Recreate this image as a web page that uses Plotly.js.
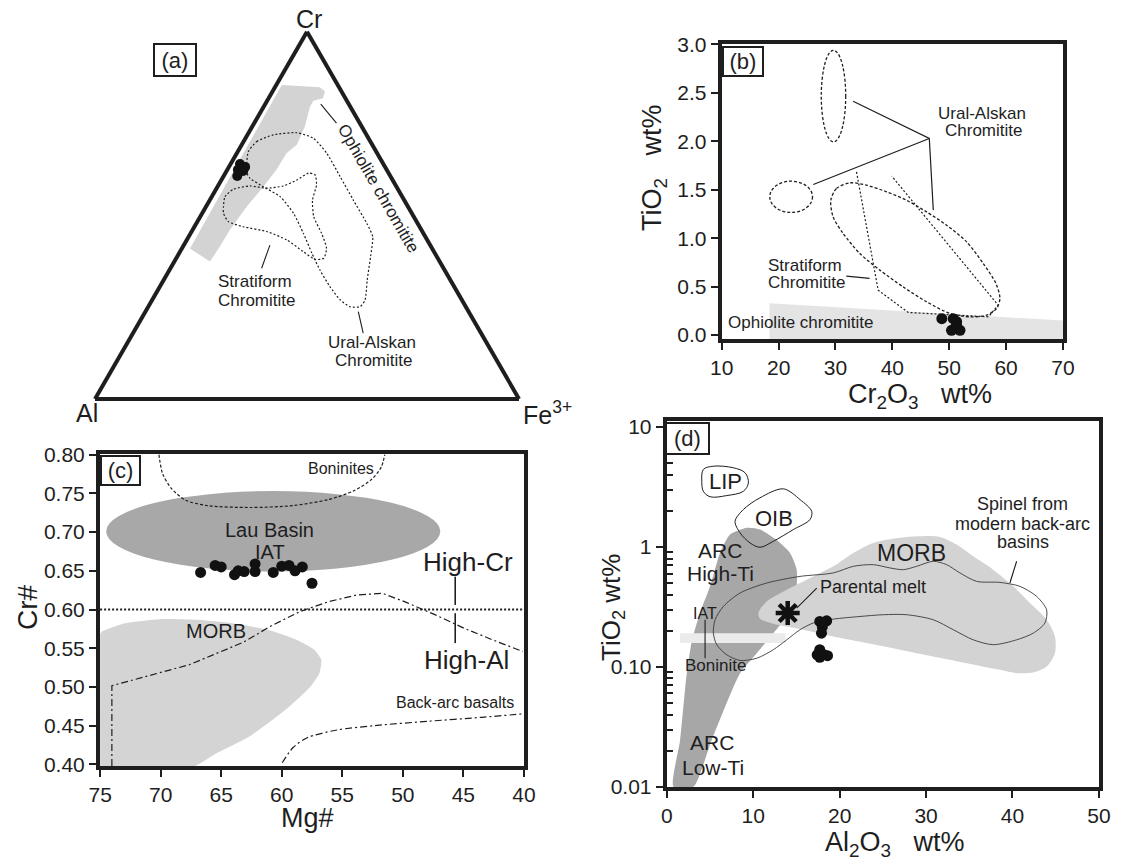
<!DOCTYPE html>
<html><head><meta charset="utf-8">
<script src="https://cdn.plot.ly/plotly-3.0.1.min.js"></script>
<style>html,body{margin:0;padding:0;background:#fff}#chart{width:1123px;height:861px}</style>
</head><body><div id="chart"></div>
<script>
// ================= DATA =================
// (a) Cr - Al - Fe3+ ternary (values in %)
const aPtsCr = [64.0, 63.2, 62.1, 62.4, 60.7, 62.9];
const aPtsAl = [33.8, 33.0, 34.0, 35.1, 36.1, 34.1];
const aPtsFe = [2.2, 3.8, 3.9, 2.5, 3.2, 3.0];

const aOphCr = [85.5, 84.9, 83.7, 81.9, 81.2, 79.6, 74.2, 69.2, 66.9, 62.4, 57.8, 52.4, 46.0, 41.5, 37.4, 41.0];
const aOphAl = [13.2, 4.5, 3.9, 5.3, 7.9, 9.5, 13.4, 17.8, 21.4, 26.0, 31.4, 38.0, 45.2, 49.8, 54.2, 57.1];
const aOphFe = [1.3, 10.6, 12.4, 12.8, 10.9, 10.9, 12.4, 13.0, 11.7, 11.6, 10.8, 9.6, 8.8, 8.7, 8.4, 1.9];

const aUraCr = [67.4, 70.1, 71.9, 72.5, 71.0, 66.9, 60.5, 54.2, 47.9, 44.2, 38.8, 32.4, 27.0, 25.1, 25.1, 27.0, 30.6, 35.1, 39.7, 45.1, 50.6, 55.1, 57.8, 60.1, 61.9, 64.6];
const aUraAl = [30.2, 26.8, 22.0, 16.2, 13.0, 11.9, 11.9, 12.0, 12.0, 12.4, 15.6, 19.6, 22.8, 24.9, 27.3, 28.7, 29.3, 29.4, 29.0, 28.3, 27.9, 28.8, 31.4, 33.4, 33.4, 31.9];
const aUraFe = [2.5, 3.1, 6.1, 11.3, 16.0, 21.2, 27.5, 33.8, 40.2, 43.4, 45.6, 48.0, 50.2, 49.9, 47.6, 44.3, 40.1, 35.5, 31.3, 26.6, 21.5, 16.1, 10.8, 6.5, 4.7, 3.5];

const aStrCr = [52.4, 55.1, 57.1, 58.0, 57.4, 58.0, 59.6, 61.5, 61.0, 58.3, 54.2, 49.6, 45.1, 41.0, 38.3, 38.0, 40.1, 43.3, 45.6, 46.9, 48.3, 50.6];
const aStrAl = [43.5, 41.8, 38.8, 34.4, 30.8, 26.6, 22.6, 18.9, 17.6, 18.6, 21.6, 23.6, 24.0, 24.9, 26.9, 29.1, 30.8, 33.1, 36.7, 41.6, 44.4, 44.4];
const aStrFe = [4.1, 3.1, 4.1, 7.6, 11.8, 15.4, 17.8, 19.6, 21.4, 23.1, 24.2, 26.8, 30.9, 34.1, 34.8, 32.9, 29.1, 23.6, 17.7, 11.5, 7.3, 5.0];

const aLeadCr = [80.3, 75.1, null, 41.9, 35.6, null, 23.8, 17.9];
const aLeadAl = [6.6, 5.5, null, 37.8, 42.9, null, 26.0, 27.8];
const aLeadFe = [13.1, 19.4, null, 20.3, 21.5, null, 50.2, 54.3];

// (b) TiO2 vs Cr2O3
const bPtsX = [48.7, 50.7, 51.3, 51.0, 51.9, 50.4, 51.3];
const bPtsY = [0.17, 0.17, 0.14, 0.07, 0.05, 0.05, 0.10];
const bOphX = [18.4, 70, 70, 18.4];
const bOphY = [0.33, 0.15, -0.04, -0.04];
const bUraTopX = [27.5, 31.8];
const bUraTopY = [1.995, 2.94];
const bUraSmallX = [18.45, 25.96];
const bUraSmallY = [1.266, 1.589];
const bUraBigX = [29.18, 30.18, 32.52, 35.46, 38.98, 42.5, 46.02, 49.54, 53.06, 55.98, 58.21, 58.92, 58.34, 56.58, 53.64, 50.12, 46.02, 41.9, 37.8, 34.28, 31.34, 29.58];
const bUraBigY = [1.393, 1.514, 1.572, 1.548, 1.479, 1.393, 1.272, 1.135, 0.963, 0.740, 0.534, 0.379, 0.276, 0.206, 0.189, 0.224, 0.344, 0.498, 0.671, 0.843, 1.050, 1.221];
const bStrX = [33.7, 37.5, 42.8, 56.9, 58.6, 39.9];
const bStrY = [1.685, 0.464, 0.234, 0.189, 0.310, 1.641];
const bLeadX = [33.1, 46.5, 47.2, null, 26.1, 46.5, null, 31.9, 36.0];
const bLeadY = [2.415, 2.03, 1.29, null, 1.555, 2.03, null, 0.609, 0.585];

// (c) Cr# vs Mg#
const cPtsX = [66.7, 65.5, 65.0, 63.9, 63.6, 63.1, 62.2, 62.2, 60.7, 60.0, 59.4, 58.9, 58.3, 57.5];
const cPtsY = [0.648, 0.657, 0.655, 0.645, 0.650, 0.649, 0.659, 0.649, 0.648, 0.656, 0.657, 0.650, 0.655, 0.634];
const cLauX = [74.5, 46.9];
const cLauY = [0.649, 0.753];
const cMorbX = [75, 74.85, 72.93, 69.99, 67.05, 64.09, 61.15, 58.79, 57.32, 56.73, 56.88, 57.61, 59.67, 62.63, 65.57, 67.19, 75];
const cMorbY = [0.568, 0.5716, 0.5824, 0.5876, 0.5867, 0.5824, 0.5738, 0.5609, 0.5481, 0.5352, 0.5181, 0.5008, 0.4708, 0.4364, 0.4129, 0.398, 0.398];
const cBonX = [70.14, 69.84, 69.10, 67.93, 66.16, 62.63, 59.09, 56.14, 54.08, 52.60, 51.78, 51.49];
const cBonY = [0.80, 0.7755, 0.7562, 0.7412, 0.7343, 0.7318, 0.7343, 0.7421, 0.7531, 0.7678, 0.7840, 0.80];
const cDivX = [75, 40];
const cDivY = [0.60, 0.60];
const cHiCrX = [74.03, 74.03, 67.63, 63.21, 60.86, 58.50, 56.14, 53.79, 51.67, 49.66, 47.30, 44.95, 42.59, 40.09];
const cHiCrY = [0.398, 0.5017, 0.5288, 0.5575, 0.5790, 0.5974, 0.6102, 0.6189, 0.6210, 0.6090, 0.5931, 0.5760, 0.5609, 0.5459];
const cBackX = [59.96, 59.08, 57.90, 55.54, 52.30, 47.88, 43.45, 40.07];
const cBackY = [0.4022, 0.4215, 0.4344, 0.4442, 0.4502, 0.4558, 0.4609, 0.4653];
const cLeadX = [45.67, 45.67, null, 45.67, 45.67];
const cLeadY = [0.6425, 0.606, null, 0.5953, 0.5567];

// (d) TiO2 vs Al2O3 (log)
const dPtsX = [17.7, 18.5, 18.0, 17.9, 17.7, 18.2, 17.4, 18.6, 17.7];
const dPtsY = [0.239, 0.242, 0.215, 0.191, 0.139, 0.126, 0.126, 0.124, 0.120];
const dArcX = [0.77, 1.54, 2.31, 2.93, 3.85, 5.01, 6.16, 7.32, 9.25, 10.79, 12.65, 14.26, 15.03, 14.95, 13.88, 12.33, 10.41, 8.48, 5.20, 3.08];
const dArcY = [0.01, 0.0246, 0.0886, 0.168, 0.283, 0.469, 0.891, 1.267, 1.442, 1.395, 1.151, 0.891, 0.646, 0.413, 0.263, 0.191, 0.130, 0.0886, 0.0246, 0.01];
const dMorbX = [10.60, 11.57, 13.88, 16.95, 19.27, 21.58, 23.89, 26.98, 29.29, 31.60, 33.54, 35.46, 37.77, 40.09, 42.02, 43.95, 44.91, 44.91, 43.95, 42.40, 40.48, 38.55, 34.70, 30.83, 26.98, 23.13, 19.27, 15.42, 12.33, 10.79];
const dMorbY = [0.281, 0.351, 0.440, 0.568, 0.689, 0.891, 1.08, 1.19, 1.226, 1.212, 1.045, 0.835, 0.646, 0.469, 0.340, 0.247, 0.179, 0.130, 0.1006, 0.0896, 0.0886, 0.0944, 0.1073, 0.122, 0.139, 0.158, 0.179, 0.207, 0.229, 0.252];
const dSpinX = [5.39, 5.59, 6.55, 8.48, 11.57, 15.42, 19.27, 21.58, 23.89, 25.82, 27.36, 28.91, 30.83, 32.38, 33.92, 35.85, 38.55, 40.86, 42.79, 43.95, 43.75, 42.40, 40.48, 37.77, 35.46, 33.15, 30.83, 27.76, 25.05, 22.36, 19.27, 16.95, 15.42, 13.88, 12.33, 10.41, 8.48, 6.94, 5.78];
const dSpinY = [0.191, 0.247, 0.319, 0.413, 0.500, 0.568, 0.607, 0.689, 0.711, 0.668, 0.646, 0.689, 0.759, 0.711, 0.607, 0.516, 0.506, 0.469, 0.387, 0.299, 0.232, 0.191, 0.168, 0.153, 0.168, 0.204, 0.247, 0.272, 0.272, 0.263, 0.250, 0.232, 0.204, 0.168, 0.139, 0.118, 0.113, 0.126, 0.153];
const dLipX = [4.23, 5.39, 7.70, 9.06, 9.44, 8.86, 6.94, 5.01, 4.23, 4.05];
const dLipY = [4.42, 4.71, 4.57, 4.15, 3.42, 2.91, 2.68, 2.62, 2.91, 3.53];
const dOibX = [7.90, 8.86, 10.79, 13.49, 15.42, 16.77, 16.57, 14.64, 12.33, 10.79, 9.63, 8.48];
const dOibY = [1.636, 2.05, 2.57, 3.05, 2.48, 1.98, 1.69, 1.395, 1.114, 0.993, 1.08, 1.31];
const dBandX = [1.54, 13.76, 13.76, 1.54];
const dBandY = [0.158, 0.158, 0.191, 0.191];
const dMeltX = [13.99];
const dMeltY = [0.281];
const dLeadX = [17.35, 15.03, null, 39.70, 40.48, null, 4.43, 4.43];
const dLeadY = [0.454, 0.309, null, 0.50, 0.759, null, 0.247, 0.118];

// ================= DRAWING =================
const W = 1123, H = 861;
const F = 'Arial, "Liberation Sans", Helvetica, sans-serif';
const INK = '#1e1e1e';
const close = a => a.concat([a[0]]);
const px2x = px => px / W, py2y = py => 1 - py / H;

const traces = [];
// ---- (a)
traces.push({type:'scatterternary', a:aOphCr, b:aOphAl, c:aOphFe, mode:'lines', fill:'toself',
  fillcolor:'#d3d3d3', line:{width:0, color:'#d3d3d3'}, hoverinfo:'skip'});
traces.push({type:'scatterternary', a:close(aUraCr), b:close(aUraAl), c:close(aUraFe), mode:'lines',
  line:{color:INK, width:1.2, dash:'2px,2px', shape:'spline', smoothing:0.6}, hoverinfo:'skip'});
traces.push({type:'scatterternary', a:close(aStrCr), b:close(aStrAl), c:close(aStrFe), mode:'lines',
  line:{color:INK, width:1.2, dash:'2px,2px', shape:'spline', smoothing:0.6}, hoverinfo:'skip'});
traces.push({type:'scatterternary', a:aLeadCr, b:aLeadAl, c:aLeadFe, mode:'lines',
  line:{color:INK, width:1.1}, hoverinfo:'skip'});
traces.push({type:'scatterternary', a:aPtsCr, b:aPtsAl, c:aPtsFe, mode:'markers',
  marker:{size:10, color:'#111'}});

// ---- (b)
traces.push({x:bOphX, y:bOphY, xaxis:'x', yaxis:'y', mode:'lines', fill:'toself', fillcolor:'#e4e4e4',
  line:{width:0, color:'#e4e4e4'}, hoverinfo:'skip'});
traces.push({x:close(bUraBigX), y:close(bUraBigY), xaxis:'x', yaxis:'y', mode:'lines',
  line:{color:INK, width:1.3, dash:'3px,2px', shape:'spline', smoothing:0.8}, hoverinfo:'skip'});
traces.push({x:bStrX, y:bStrY, xaxis:'x', yaxis:'y', mode:'lines',
  line:{color:INK, width:1.2, dash:'2px,2px'}, hoverinfo:'skip'});
traces.push({x:bLeadX, y:bLeadY, xaxis:'x', yaxis:'y', mode:'lines',
  line:{color:INK, width:1.2}, hoverinfo:'skip'});
traces.push({x:bPtsX, y:bPtsY, xaxis:'x', yaxis:'y', mode:'markers',
  marker:{size:11, color:'#111'}});

// ---- (c)
traces.push({x:cMorbX, y:cMorbY, xaxis:'x2', yaxis:'y2', mode:'lines', fill:'toself', fillcolor:'#d4d4d4',
  line:{width:0, color:'#d4d4d4', shape:'spline', smoothing:0.5}, hoverinfo:'skip'});
traces.push({x:cBonX, y:cBonY, xaxis:'x2', yaxis:'y2', mode:'lines',
  line:{color:INK, width:1.2, dash:'3px,2px', shape:'spline', smoothing:0.8}, hoverinfo:'skip'});
traces.push({x:cDivX, y:cDivY, xaxis:'x2', yaxis:'y2', mode:'lines',
  line:{color:INK, width:2, dash:'2px,2px'}, hoverinfo:'skip'});
traces.push({x:cHiCrX, y:cHiCrY, xaxis:'x2', yaxis:'y2', mode:'lines',
  line:{color:INK, width:1.2, dash:'7px,3px,2px,3px'}, hoverinfo:'skip'});
traces.push({x:cBackX, y:cBackY, xaxis:'x2', yaxis:'y2', mode:'lines',
  line:{color:INK, width:1.2, dash:'7px,3px,2px,3px', shape:'spline', smoothing:0.8}, hoverinfo:'skip'});
traces.push({x:cLeadX, y:cLeadY, xaxis:'x2', yaxis:'y2', mode:'lines',
  line:{color:INK, width:1.6}, hoverinfo:'skip'});
traces.push({x:cPtsX, y:cPtsY, xaxis:'x2', yaxis:'y2', mode:'markers',
  marker:{size:11, color:'#111'}});

// ---- (d)
traces.push({x:close(dArcX), y:close(dArcY), xaxis:'x3', yaxis:'y3', mode:'lines', fill:'toself', fillcolor:'#a7a7a7',
  line:{width:0, color:'#a7a7a7', shape:'spline', smoothing:0.6}, hoverinfo:'skip'});
traces.push({x:close(dMorbX), y:close(dMorbY), xaxis:'x3', yaxis:'y3', mode:'lines', fill:'toself', fillcolor:'#d3d3d3',
  line:{width:0, color:'#d3d3d3', shape:'spline', smoothing:0.8}, hoverinfo:'skip'});
traces.push({x:dBandX, y:dBandY, xaxis:'x3', yaxis:'y3', mode:'lines', fill:'toself', fillcolor:'#ebebeb',
  line:{width:0, color:'#ebebeb'}, hoverinfo:'skip'});
traces.push({x:close(dSpinX), y:close(dSpinY), xaxis:'x3', yaxis:'y3', mode:'lines',
  line:{color:'#3a3a3a', width:0.9, shape:'spline', smoothing:0.8}, hoverinfo:'skip'});
traces.push({x:close(dLipX), y:close(dLipY), xaxis:'x3', yaxis:'y3', mode:'lines',
  line:{color:INK, width:1, shape:'spline', smoothing:1}, hoverinfo:'skip'});
traces.push({x:close(dOibX), y:close(dOibY), xaxis:'x3', yaxis:'y3', mode:'lines',
  line:{color:INK, width:1, shape:'spline', smoothing:0.9}, hoverinfo:'skip'});
traces.push({x:dLeadX, y:dLeadY, xaxis:'x3', yaxis:'y3', mode:'lines',
  line:{color:INK, width:1.1}, hoverinfo:'skip'});
traces.push({x:dMeltX, y:dMeltY, xaxis:'x3', yaxis:'y3', mode:'markers',
  marker:{symbol:'asterisk-open', size:20, color:'#111', line:{width:4.5, color:'#111'}}});
traces.push({x:dPtsX, y:dPtsY, xaxis:'x3', yaxis:'y3', mode:'markers',
  marker:{size:11, color:'#111'}});

// ---------- shapes (ellipses) ----------
const shapes = [
  {type:'circle', xref:'x', yref:'y', x0:bUraTopX[0], x1:bUraTopX[1], y0:bUraTopY[0], y1:bUraTopY[1],
   line:{color:INK, width:1.3, dash:'3px,2px'}},
  {type:'circle', xref:'x', yref:'y', x0:bUraSmallX[0], x1:bUraSmallX[1], y0:bUraSmallY[0], y1:bUraSmallY[1],
   line:{color:INK, width:1.3, dash:'3px,2px'}},
  {type:'circle', xref:'x2', yref:'y2', x0:cLauX[0], x1:cLauX[1], y0:cLauY[0], y1:cLauY[1],
   fillcolor:'#a8a8a8', line:{width:0}, layer:'below'}
];

// ---------- annotations ----------
function ann(text, xref, yref, x, y, size, extra) {
  return Object.assign({xref, yref, x, y, text, showarrow:false, xanchor:'center', yanchor:'middle',
    font:{family:F, size, color:INK}}, extra || {});
}
function pa(text, px, py, size, extra) { return ann(text, 'paper', 'paper', px2x(px), py2y(py), size, extra); }
function box(text, px, py, w, h) {
  return pa(text, px, py, 22, {bordercolor:INK, borderwidth:2, borderpad:0, bgcolor:'white', width:w, height:h});
}
const L = v => Math.log10(v);

const annotations = [
  // (a)
  pa('Cr', 309, 19, 25),
  pa('Al', 87, 413, 25),
  pa('Fe<sup>3+</sup>', 521, 413, 25, {xanchor:'left'}),
  box('(a)', 175.3, 60, 40, 30),
  pa('Ophiolite chromitite', 378, 189, 17, {textangle:60}),
  pa('Stratiform', 255, 281, 17),
  pa('Chromitite', 256.7, 300, 17),
  pa('Ural-Alskan', 371.7, 342.7, 17),
  pa('Chromitite', 373.3, 360.7, 17),
  // (b)
  box('(b)', 742.8, 62, 38, 27),
  pa('TiO<sub>2</sub>&nbsp;&nbsp;&nbsp;wt%', 654, 168, 27, {textangle:-90}),
  pa('Cr<sub>2</sub>O<sub>3</sub>&nbsp;&nbsp;&nbsp;wt%', 920, 396, 27),
  ann('Ural-Alskan', 'x', 'y', 55.7, 2.288, 17),
  ann('Chromitite', 'x', 'y', 56.1, 2.108, 17),
  ann('Stratiform', 'x', 'y', 24.6, 0.722, 17),
  ann('Chromitite', 'x', 'y', 24.9, 0.540, 17),
  ann('Ophiolite chromitite', 'x', 'y', 10.7, 0.127, 17, {xanchor:'left'}),
  // (c)
  box('(c)', 120.8, 470.8, 37, 27),
  pa('Cr#', 27, 607, 28, {textangle:-90}),
  pa('Mg#', 307, 818, 27),
  ann('Boninites', 'x2', 'y2', 55.1, 0.782, 16),
  ann('Lau Basin', 'x2', 'y2', 61.0, 0.7026, 20),
  ann('IAT', 'x2', 'y2', 61.0, 0.6738, 20),
  ann('MORB', 'x2', 'y2', 65.42, 0.5717, 20),
  ann('High-Cr', 'x2', 'y2', 44.63, 0.6618, 26),
  ann('High-Al', 'x2', 'y2', 44.78, 0.5352, 26),
  ann('Back-arc basalts', 'x2', 'y2', 45.67, 0.4794, 16),
  // (d)
  box('(d)', 687.5, 438, 41, 29),
  pa('TiO<sub>2</sub>&nbsp;wt%', 612, 608, 26, {textangle:-90}),
  pa('Al<sub>2</sub>O<sub>3</sub>&nbsp;&nbsp;&nbsp;wt%', 895, 844, 27),
  ann('LIP', 'x3', 'y3', 6.74, L(3.53), 22),
  ann('OIB', 'x3', 'y3', 12.41, L(1.714), 22),
  ann('ARC', 'x3', 'y3', 6.16, L(0.93), 21),
  ann('High-Ti', 'x3', 'y3', 6.16, L(0.60), 21),
  ann('ARC', 'x3', 'y3', 5.20, L(0.0235), 21),
  ann('Low-Ti', 'x3', 'y3', 5.39, L(0.0145), 21),
  ann('MORB', 'x3', 'y3', 28.33, L(0.891), 23),
  ann('Spinel from', 'x3', 'y3', 41.17, L(2.26), 18),
  ann('modern back-arc', 'x3', 'y3', 41.17, L(1.565), 18),
  ann('basins', 'x3', 'y3', 41.17, L(1.092), 18),
  ann('Parental melt', 'x3', 'y3', 23.89, L(0.460), 18),
  ann('IAT', 'x3', 'y3', 4.43, L(0.281), 16),
  ann('Boninite', 'x3', 'y3', 5.59, L(0.1025), 17)
];

// ---------- axes ----------
const axBase = {showline:true, mirror:true, linewidth:4, linecolor:INK, ticks:'outside', ticklen:7, tickwidth:2,
  tickcolor:INK, showgrid:false, zeroline:false, tickfont:{family:F, size:21, color:INK}, fixedrange:true};
const ax = o => Object.assign({}, axBase, o);
const tAx = {showline:true, linewidth:4, linecolor:INK, showgrid:false, showticklabels:false, ticks:'', title:{text:''}};

const minorVals = [];
[0.01, 0.1, 1].forEach(d => { for (let k = 2; k <= 9; k++) minorVals.push(+(d * k).toPrecision(3)); });

const layout = {
  width:W, height:H, margin:{l:0, r:0, t:0, b:0}, paper_bgcolor:'white', plot_bgcolor:'rgba(0,0,0,0)',
  showlegend:false, font:{family:F, color:INK},
  ternary:{domain:{x:[px2x(95), px2x(519)], y:[py2y(399), py2y(31.7)]}, sum:100, bgcolor:'white',
    aaxis:tAx, baxis:tAx, caxis:tAx},
  xaxis: ax({domain:[px2x(721.7), px2x(1063)], anchor:'y', range:[9.99, 70.01], dtick:10, tick0:10}),
  yaxis: ax({domain:[py2y(339), py2y(44.3)], anchor:'x', range:[-0.04, 3.002], dtick:0.5, tick0:0, tickformat:'.1f'}),
  xaxis2: ax({domain:[px2x(100), px2x(524)], anchor:'y2', range:[75.01, 39.99], dtick:5, tick0:40}),
  yaxis2: ax({domain:[py2y(766), py2y(454.3)], anchor:'x2', range:[0.398, 0.8005], dtick:0.05, tick0:0.4, tickformat:'.2f'}),
  xaxis3: ax({domain:[px2x(666.7), px2x(1099)], anchor:'y3', range:[-0.01, 50.01], dtick:10, tick0:0}),
  yaxis3: ax({domain:[py2y(787), py2y(421)], anchor:'x3', type:'log', range:[-2.002, 1.05],
    tickmode:'array', tickvals:[0.01, 0.1, 1, 10], ticktext:['0.01', '0.10', '1', '10'],
    minor:{ticks:'inside', ticklen:6, tickwidth:2, tickcolor:INK, tickmode:'array', tickvals:minorVals, showgrid:false}}),
  shapes, annotations
};

Plotly.newPlot('chart', traces, layout, {displayModeBar:false, staticPlot:true});
</script>
</body></html>
